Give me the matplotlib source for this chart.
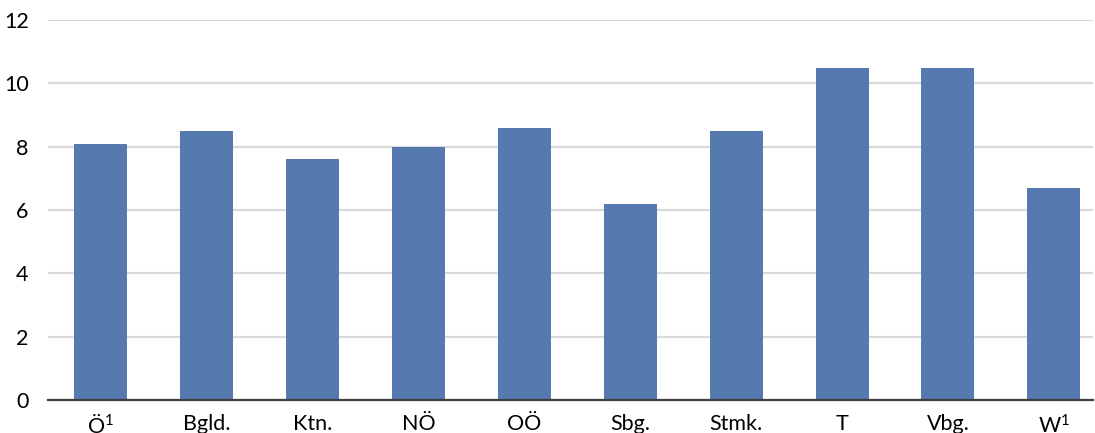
import matplotlib.pyplot as plt

# Bundesländer values
labels = ['Ö$^{1}$', 'Bgld.', 'Ktn.', 'NÖ', 'OÖ', 'Sbg.', 'Stmk.', 'T', 'Vbg.', 'W$^{1}$']
values = [8.1, 8.5, 7.6, 8.0, 8.6, 6.2, 8.5, 10.5, 10.5, 6.7]
yticks = [0, 2, 4, 6, 8, 10, 12]

plt.rcParams['font.family'] = ['Lato', 'DejaVu Sans']
plt.rcParams['mathtext.fontset'] = 'custom'
plt.rcParams['mathtext.rm'] = 'Lato'
plt.rcParams['mathtext.it'] = 'Lato'
plt.rcParams['mathtext.default'] = 'rm'

fig = plt.figure(figsize=(10.95, 4.33), dpi=100)
ax = fig.add_axes([48/1095, 33/433, (1093-48)/1095, 380/433])

x = range(len(labels))
ax.bar(x, values, width=0.5, color='#5679B0', zorder=3)

ax.set_xlim(-0.5, 9.37)
ax.set_ylim(0, 12)
ax.set_yticks(yticks)
ax.set_xticks(list(x))
ax.set_xticklabels(labels, fontsize=15.5)
ax.tick_params(axis='y', labelsize=15.5, length=0, pad=14)
ax.tick_params(axis='x', length=0, pad=10)

ax.grid(axis='y', color='#D9D9D9', linewidth=1.6, zorder=0)
for s in ['top', 'right', 'left']:
    ax.spines[s].set_visible(False)
ax.spines['bottom'].set_color('#404040')
ax.spines['bottom'].set_linewidth(1.6)
ax.spines['bottom'].set_zorder(4)

fig.savefig('out.png', dpi=100)
